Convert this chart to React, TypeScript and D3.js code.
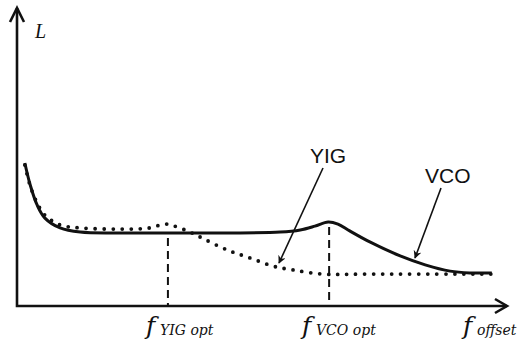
import React, { useEffect, useRef } from "react";
import * as d3 from "d3";

// curves (offset freq 0..100, level 0..100)
const vcoF = [1.6, 2.7, 4.1, 5.7, 8.8, 12.9, 21, 37.3, 53.7, 57.8, 60.8, 63.5, 65.5, 67.9, 72, 78.2, 83.3, 88.4, 92.4, 96.9];
const vcoL = [48, 40.6, 33.9, 29.5, 26.2, 24.8, 24.5, 24.5, 24.8, 25.5, 26.8, 28.2, 27.5, 25.2, 21.5, 16.8, 13.8, 11.7, 11.1, 11.1];

const yigF = [1.6, 2.7, 4.1, 5.7, 8.8, 12.9, 21, 27.1, 30.2, 32.2, 35.3, 37.3, 42.9, 47.6, 52.2, 56.3, 62.4, 70, 96.9];
const yigL = [47.3, 40.3, 34.6, 30.5, 27.2, 26.2, 25.8, 26.2, 27.5, 26.8, 24.8, 23.2, 18.8, 16.1, 13.4, 12.1, 10.7, 10.7, 10.7];

// optimum offsets (dashed guides) and where the dashes start
const optF = [30.8, 63.7];
const optTop = [22.8, 26.5];

const tickSubs = ["YIG opt", "VCO opt", "offset"];

const W = 524,
  H = 347;

const App = () => {
  const ref = useRef<SVGSVGElement>(null);

  useEffect(() => {
    const svg = d3.select(ref.current);
    svg.selectAll("*").remove();

    const x = d3.scaleLinear().domain([0, 100]).range([17, 507]);
    const y = d3.scaleLinear().domain([0, 100]).range([306, 8]);

    const line = d3
      .line<[number, number]>()
      .x((d) => x(d[0]))
      .y((d) => y(d[1]))
      .curve(d3.curveCatmullRom.alpha(0.5));

    const defs = svg.append("defs");
    defs
      .append("marker")
      .attr("id", "head")
      .attr("viewBox", "0 0 10 10")
      .attr("refX", 9)
      .attr("refY", 5)
      .attr("markerWidth", 10)
      .attr("markerHeight", 8)
      .attr("markerUnits", "userSpaceOnUse")
      .attr("orient", "auto")
      .append("path")
      .attr("d", "M0,0 L10,5 L0,10 L3,5 Z")
      .attr("fill", "#111");

    // axes
    svg
      .append("path")
      .attr("d", `M${x(0)},${y(100)} L${x(0)},${y(0)} L${x(100)},${y(0)}`)
      .attr("fill", "none")
      .attr("stroke", "#111")
      .attr("stroke-width", 2.6);
    svg
      .append("path")
      .attr("d", `M${x(0) - 7},${y(100) + 14} L${x(0)},${y(100)} L${x(0) + 7},${y(100) + 14}`)
      .attr("fill", "none")
      .attr("stroke", "#111")
      .attr("stroke-width", 2.6);
    svg
      .append("path")
      .attr("d", `M${x(100) - 12},${y(0) - 7} L${x(100)},${y(0)} L${x(100) - 12},${y(0) + 7}`)
      .attr("fill", "none")
      .attr("stroke", "#111")
      .attr("stroke-width", 2.6);

    // dashed guides
    optF.forEach((f, i) => {
      svg
        .append("line")
        .attr("x1", x(f))
        .attr("x2", x(f))
        .attr("y1", y(optTop[i]))
        .attr("y2", y(0))
        .attr("stroke", "#111")
        .attr("stroke-width", 2)
        .attr("stroke-dasharray", "8 5");
    });

    // VCO solid
    svg
      .append("path")
      .attr("d", line(vcoF.map((f, i) => [f, vcoL[i]])))
      .attr("fill", "none")
      .attr("stroke", "#111")
      .attr("stroke-width", 3);

    // YIG dotted
    svg
      .append("path")
      .attr("d", line(yigF.map((f, i) => [f, yigL[i]])))
      .attr("fill", "none")
      .attr("stroke", "#111")
      .attr("stroke-width", 3.8)
      .attr("stroke-linecap", "round")
      .attr("stroke-dasharray", "0 9");

    // annotation arrows
    svg
      .append("line")
      .attr("x1", 323)
      .attr("y1", 168)
      .attr("x2", 279)
      .attr("y2", 263)
      .attr("stroke", "#111")
      .attr("stroke-width", 1.6)
      .attr("marker-end", "url(#head)");
    svg
      .append("line")
      .attr("x1", 441)
      .attr("y1", 188)
      .attr("x2", 415)
      .attr("y2", 258)
      .attr("stroke", "#111")
      .attr("stroke-width", 1.6)
      .attr("marker-end", "url(#head)");

    svg
      .append("text")
      .attr("x", 310)
      .attr("y", 163)
      .attr("font-family", "Liberation Sans, Arial, sans-serif")
      .attr("font-size", 21)
      .attr("fill", "#111")
      .text("YIG");
    svg
      .append("text")
      .attr("x", 425)
      .attr("y", 183)
      .attr("font-family", "Liberation Sans, Arial, sans-serif")
      .attr("font-size", 21)
      .attr("fill", "#111")
      .text("VCO");

    // L label
    svg
      .append("text")
      .attr("x", 35)
      .attr("y", 38)
      .attr("font-family", "Liberation Serif, serif")
      .attr("font-style", "italic")
      .attr("font-size", 20)
      .attr("fill", "#111")
      .text("L");

    // tick labels
    const labelX = [146, 302, 463];
    tickSubs.forEach((s, i) => {
      svg
        .append("text")
        .attr("x", labelX[i])
        .attr("y", 334)
        .attr("font-family", "DejaVu Serif, serif")
        .attr("font-style", "italic")
        .attr("font-size", 25)
        .attr("fill", "#111")
        .text("f");
      svg
        .append("text")
        .attr("x", labelX[i] + 14)
        .attr("y", 335)
        .attr("font-family", "DejaVu Serif, serif")
        .attr("font-style", "italic")
        .attr("font-size", 14)
        .attr("fill", "#111")
        .text(s);
    });
  }, []);

  return (
    <svg
      ref={ref}
      width={W}
      height={H}
      style={{ position: "absolute", left: 0, top: 0, background: "#fff" }}
    ></svg>
  );
};

export default App;
